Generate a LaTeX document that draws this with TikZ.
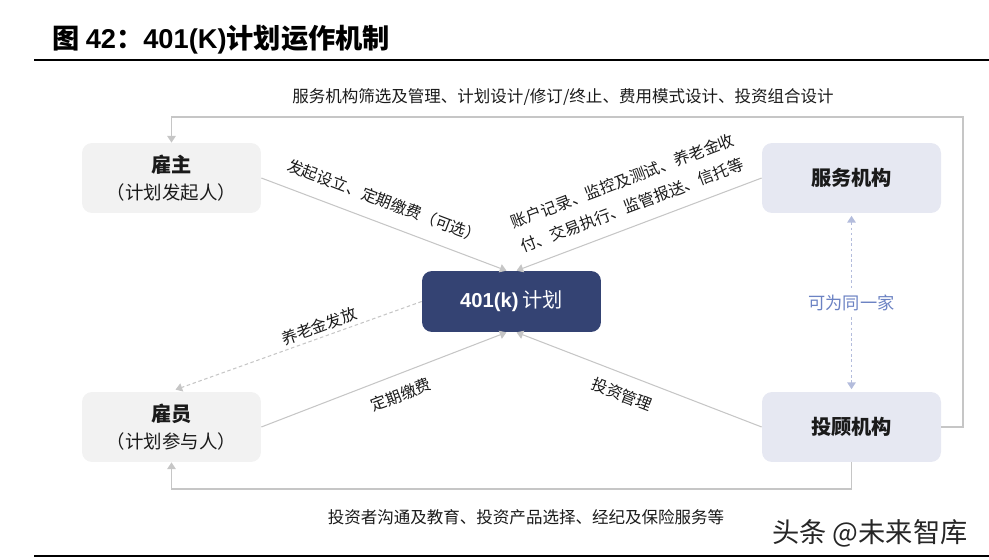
\documentclass[tikz,border=0pt]{standalone}
\usepackage{fontspec}
\usepackage{xcolor}
\usetikzlibrary{positioning,calc,arrows.meta}
\setmainfont{Noto Sans CJK SC}
\newfontfamily\arialFont{Liberation Sans}
\definecolor{rptGreyFill}{HTML}{F2F2F2}
\definecolor{rptBlueFill}{HTML}{E6E8F2}
\definecolor{rptNavy}{HTML}{344373}
\definecolor{rptGreyLine}{HTML}{C6C6C6}
\definecolor{rptDotLine}{HTML}{B3BCDC}
\definecolor{rptDotText}{HTML}{6B82C3}
\definecolor{rptText}{HTML}{1A1A1A}
\tikzset{
  party box/.style={
    rounded corners=0.2cm, minimum width=3.58cm, minimum height=1.4cm,
    align=center, inner sep=0pt, text=rptText,
  },
  grey box/.style={party box, fill=rptGreyFill},
  blue box/.style={party box, fill=rptBlueFill, font=\fontsize{11.5}{14}\selectfont\bfseries},
  plan box/.style={
    rounded corners=0.2cm, minimum width=3.58cm, minimum height=1.22cm,
    fill=rptNavy, text=white, inner sep=0pt,
  },
  flow arrow/.style={
    rptGreyLine, line width=0.6pt,
    -{Triangle[length=3.8pt, width=4.8pt]},
  },
  flow label/.style={
    font=\fontsize{9}{15}\selectfont, text=rptText,
    inner sep=1pt, sloped, align=center,
  },
  note text/.style={font=\fontsize{9.4}{12}\selectfont, text=rptText, inner sep=0pt},
}

\begin{document}
\begin{tikzpicture}[x=0.02cm, y=-0.02cm]
\useasboundingbox (0,0) rectangle (989,560);

% Title and rules
\node[anchor=west, inner sep=0pt, font=\fontsize{15.5}{18}\selectfont\bfseries] (title) at (52,40)
  {图 {\arialFont\bfseries 42}：{\arialFont\bfseries 401(K)}计划运作机制};
\draw[black, line width=1.1pt] (34,60) -- (989,60);
\draw[black, line width=1.1pt] (34,556) -- (989,556);

% Parties
\node[grey box] (employer) at (171.5,178)
  {{\fontsize{11.5}{14}\selectfont\bfseries 雇主}\\[3pt]{\fontsize{10.5}{13}\selectfont （计划发起人）}};
\node[grey box] (employee) at (171.5,427)
  {{\fontsize{11.5}{14}\selectfont\bfseries 雇员}\\[3pt]{\fontsize{10.5}{13}\selectfont （计划参与人）}};
\node[blue box] (servicer) at (851.5,178) {服务机构};
\node[blue box] (advisor) at (851.5,427) {投顾机构};

% The plan
\node[plan box] (plan) at (511.5,301.5)
  {{\arialFont\bfseries\fontsize{11.5}{14}\selectfont 401(k)} {\fontsize{11.5}{14}\selectfont 计划}};

% Flows into the plan
\draw[flow arrow] (employer.east) -- ([xshift=-0.1cm]plan.north)
  node[flow label, pos=0.47, above=7pt] {发起设立、定期缴费（可选）};
\draw[flow arrow] (servicer.west) -- ([xshift=0.1cm]plan.north)
  node[flow label, pos=0.5, above=6pt] {账户记录、监控及测试、养老金收\\付、交易执行、监管报送、信托等};
\draw[flow arrow] (employee.east) -- ([xshift=-0.1cm]plan.south)
  node[flow label, pos=0.54, below=6pt] {定期缴费};
\draw[flow arrow] (advisor.west) -- ([xshift=0.1cm]plan.south)
  node[flow label, pos=0.54, below=6pt] {投资管理};

% Payout (dashed)
\draw[flow arrow, dash pattern=on 2pt off 1.5pt] (plan.west) -- ([xshift=0.08cm, yshift=0.04cm]employee.north)
  node[flow label, pos=0.4, above=1pt] {养老金发放};

% Servicer / advisor may be one firm
\draw[rptDotLine, line width=0.6pt, dash pattern=on 1.5pt off 1.5pt,
  {Triangle[length=3.8pt, width=4.8pt]}-{Triangle[length=3.8pt, width=4.8pt]}]
  ([yshift=-0.05cm]servicer.south) -- ([yshift=0.05cm]advisor.north)
  node[midway, fill=white, inner sep=2pt, text=rptDotText, font=\fontsize{9.8}{12}\selectfont] {可为同一家};

% Outer loops
\coordinate (topRight) at (963,117);
\coordinate (botLeft) at (171.5,489);
\draw[flow arrow] (advisor.east) -| (topRight) -| (employer.north);
\draw[flow arrow] (advisor.south) |- (botLeft) -- (employee.south);
\node[note text] (topNote) at (563,97) {服务机构筛选及管理、计划设计/修订/终止、费用模式设计、投资组合设计};
\node[note text] (botNote) at (526,517) {投资者沟通及教育、投资产品选择、经纪及保险服务等};

% Watermark
\node[inner sep=0pt, text=black!85, font=\fontsize{15.5}{18}\selectfont] (mark) at (870,533) {头条 @未来智库};

\end{tikzpicture}
\end{document}
